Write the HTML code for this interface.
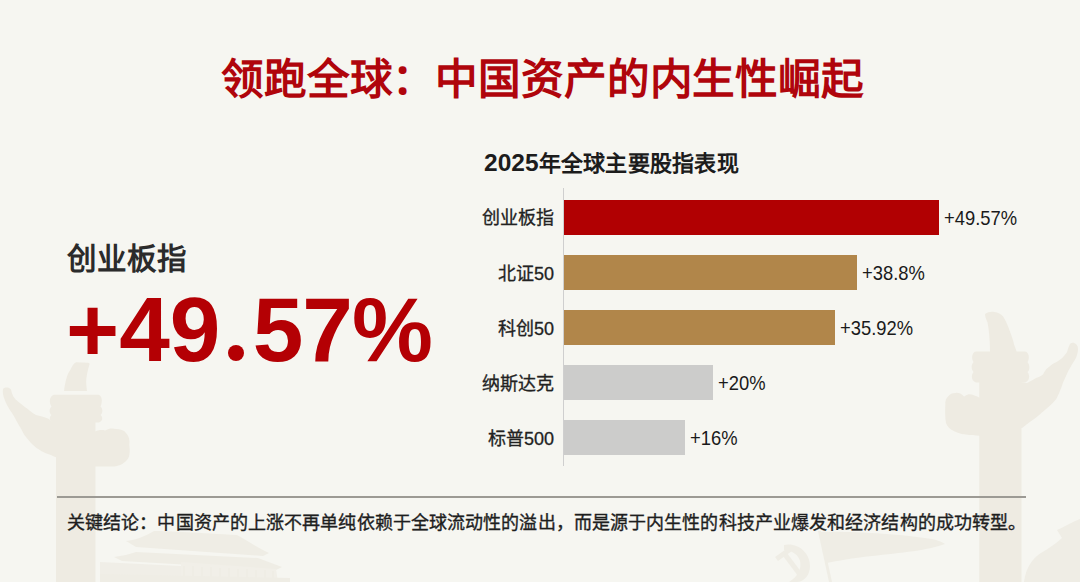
<!DOCTYPE html>
<html lang="zh-CN">
<head>
<meta charset="utf-8">
<style>
html,body{margin:0;padding:0;}
body{width:1080px;height:582px;overflow:hidden;position:relative;background:#f6f6f1;font-family:"Liberation Sans",sans-serif;}
#wm{position:absolute;left:0;top:0;width:1080px;height:582px;}
.abs{position:absolute;white-space:nowrap;line-height:1;}
#title{left:221px;top:58px;font-size:42.6px;letter-spacing:-0.15px;font-weight:bold;color:#b0050c;}
#sub{left:484px;top:151px;font-size:22px;letter-spacing:0.25px;font-weight:bold;color:#1c1c1c;}
#lbl{left:67px;top:243.5px;font-size:29.5px;font-weight:bold;color:#2b2b2b;}
#big{left:66px;top:283.5px;font-size:91px;font-weight:bold;color:#b40004;}
.dot{position:relative;margin-left:3px;letter-spacing:4px;color:transparent;}
.dot::after{content:"";position:absolute;left:5px;top:66px;width:16px;height:16px;border-radius:50%;background:#b40004;}
.axis{position:absolute;left:563px;top:188px;width:1px;height:278px;background:#cfcfcf;}
.bar{position:absolute;left:564px;height:35px;}
.cl{position:absolute;right:526px;font-size:18px;color:#222;line-height:1;white-space:nowrap;-webkit-text-stroke:0.3px #222;}
.vl{position:absolute;font-size:21px;color:#1a1a1a;line-height:1;white-space:nowrap;transform-origin:0 0;transform:scaleX(0.875);}
#rule{position:absolute;left:57px;top:496px;width:969px;height:2px;background:#9c9a94;}
#concl{left:67px;top:513.5px;font-size:18px;letter-spacing:0.1px;color:#1e1e1e;-webkit-text-stroke:0.35px #1e1e1e;}
</style>
</head>
<body>
<svg id="wm" viewBox="0 0 1080 582">
 <g fill="#eeebe2">
  <!-- left huabiao -->
  <rect x="56" y="420" width="39.4" height="162"/>
  <path d="M64,391 C65,383 67,374 70,370.6 C72,366 74,363 76,362.2 L88,362.8 C89.5,363 90,364 89.3,365 C88,369 87,374 86.3,379 C86,383 86.5,387 87,391 Z"/>
  <path d="M54,394.7 L98,394.7 C102,395 103,401 100.5,406.5 C103,409 103,413 100.5,415 C103,417 103,421 99,422.5 L53,422.5 C49,421 49,417 51.5,415 C49,413 49,409 51.5,406.5 C49,403 49,396 54,394.7 Z"/>
  <path d="M3,389 C5,387 9,387 11,389.6 C12,395 14,399 18,401.6 C22,405 25,407 27.7,409 C31,412 34,414 36,415 C40,416 44,417 48,418.5 L52,421.5 L57,421.5 L57,457.3 L56,457.3 C53,456 51,455 48,454 C45,453 43,452 41.6,451.3 C38,449 35,447 32,444 C29,441 27,438 24.8,435.6 C23,433 22,430 20,427 C17,422 15,418 12,413 C9,409 6,404 4,398 C3,395 2.5,392 3,389 Z"/>
  <path d="M94,432 C98,430 102,429.5 105,430.5 C109,428 113,428 116,429 C120,429 124,430 126,433 C129,436 130,440 129.3,445 C130,450 130,455 128.3,458.3 C125,463 120,466 114,466.5 L94,466.5 Z"/>
  <!-- right huabiao -->
  <rect x="979.3" y="380" width="42.2" height="202"/>
  <path d="M990,352 C990,340 989,330 987.5,322.3 C986,319 985,316 985,314 C988,312 991,311.5 994.3,312 C998,312.5 1001,314 1003,316.3 C1006,321 1008,326 1009.8,331 C1012,337 1013.5,341 1014,344.6 C1015,347 1016,349.5 1016.7,352 Z"/>
  <path d="M976,351.5 L1025,351.5 C1029,352 1030,358 1027.5,362 C1030,365 1030,370 1027.5,372 C1030,375 1030,381 1025,382.4 L976,382.4 C971,381 971,375 973.5,372 C971,369 971,365 973.5,362 C971,358 972,352 976,351.5 Z"/>
  <path d="M1020,382 L1027,383 C1031,381 1034,379 1036,378 C1039,377 1041,376 1043,374.5 C1045,371 1046,369 1048,367.8 C1051,365 1053,363.5 1055,362.7 C1058,361 1060,360 1061.6,358.4 C1064,356 1066,354 1067,352 C1068,349 1068.5,347 1069.3,345.5 C1070,343 1072,342.5 1073.5,342.8 C1076,343.5 1078,345.5 1078,349 C1078,352 1077,355 1076.2,357.5 C1074.5,361 1072,364 1070.2,367.8 C1068,371 1066.5,375 1065,378.2 C1063.5,381 1062.5,384 1061.6,386.8 C1060,391 1058.5,395 1056.4,398.8 C1054,402 1051,405 1047.8,407.4 C1044,411 1040,414 1035.8,417.7 C1031,421 1026.5,424.5 1022,428 L1020,428 Z"/>
  <path d="M980,398 C976,396 972,394 968,394.4 C966,395 965,396 964,396.5 C962,394 959,392.5 955.6,392.9 C952,393 950,394 948.5,396 C946,398 945,401 945.3,405 C945,410 945,418 946,423 C947,426 949,428 951,429.5 C955,432 960,434 966,434.6 C970,435.5 975,435.7 980,435.7 Z"/>
 </g>
 <g fill="#efede5">
  <!-- tiananmen -->
  <path d="M126,541 C136,540 146,536 154,531 C170,531 200,533 237,535 C248,541 258,548 269,553 L263,556 L136,547 Z"/>
  <path d="M114,557 C122,556 130,554 136,552 L258,558 C266,561 274,564 282,567 L276,570 L122,561 Z"/>
  <path d="M100,562 L181,566 L181,582 L100,582 Z" fill="#f0eee7"/>
  <path d="M181,562 L276,569 L278,582 L181,582 Z" fill="#f1efe8"/>
  <path d="M183,566h2v16h-2zM192,566h2v16h-2zM201,567h2v15h-2zM210,567h2v15h-2zM219,568h2v14h-2zM228,568h2v14h-2zM237,569h2v13h-2zM246,569h2v13h-2zM255,570h2v12h-2zM264,570h2v12h-2zM272,571h2v11h-2z"/>
  <path d="M100,574 L290,578 L290,582 L100,582 Z"/>
  <!-- flag -->
  <path d="M819,532 C850,531 900,534 932,539 C938,540 942,542 945,544 C930,550 900,553 872,556 C852,558 838,561 826,563 Z"/>
  <path d="M818,531 L821,531 L832,582 L829,582 Z"/>
  <!-- hammer sickle -->
  <path d="M784,545 C797,542 810,552 810,566 C810,576 803,582 797,582 L789,582 C797,577 802,570 800,561 C798,554 791,550 784,550 Z"/>
  <path d="M775,557 L789,547 L792,551 L778,561 Z"/>
  <path d="M783,556 L787,553 L805,577 L801,580 Z"/>
  <!-- bottom right -->
  <path d="M1024,582 C1026,566 1034,556 1046,550 C1052,546 1058,542 1062,538 L1057,530 C1064,527 1072,522 1080,519 L1080,582 Z"/>
 </g>
</svg>

<div class="abs" id="title">领跑全球：中国资产的内生性崛起</div>
<div class="abs" id="sub"><span style="font-size:24.5px;letter-spacing:0">2025</span>年全球主要股指表现</div>
<div class="abs" id="lbl">创业板指</div>
<div class="abs" id="big">+49<span class="dot">.</span><span style="letter-spacing:-1px">57%</span></div>

<div class="axis"></div>
<div class="bar" style="top:200px;width:375px;background:#b10002;"></div>
<div class="bar" style="top:255px;width:293px;background:#b1864a;"></div>
<div class="bar" style="top:310px;width:271px;background:#b1864a;"></div>
<div class="bar" style="top:365px;width:149px;background:#cccccb;"></div>
<div class="bar" style="top:420px;width:121px;background:#cccccb;"></div>

<div class="cl" style="top:209px;">创业板指</div>
<div class="cl" style="top:265px;">北证50</div>
<div class="cl" style="top:320px;">科创50</div>
<div class="cl" style="top:375px;">纳斯达克</div>
<div class="cl" style="top:430px;">标普500</div>

<div class="vl" style="left:944px;top:207px;">+49.57%</div>
<div class="vl" style="left:862px;top:262px;">+38.8%</div>
<div class="vl" style="left:840px;top:317px;">+35.92%</div>
<div class="vl" style="left:718px;top:372px;">+20%</div>
<div class="vl" style="left:690px;top:427px;">+16%</div>

<div id="rule"></div>
<div class="abs" id="concl">关键结论：中国资产的上涨不再单纯依赖于全球流动性的溢出，而是源于内生性的科技产业爆发和经济结构的成功转型。</div>
</body>
</html>
